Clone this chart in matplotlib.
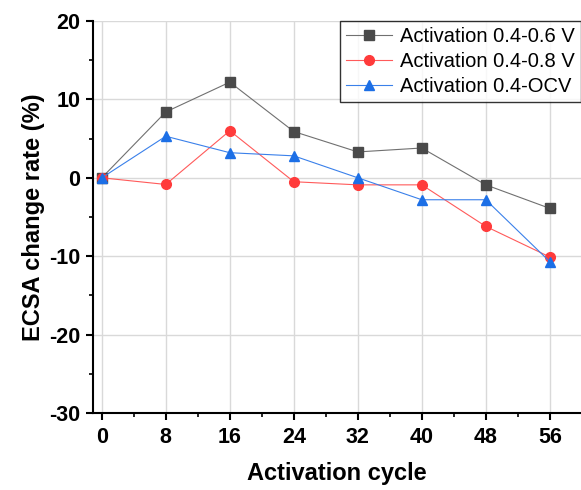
import matplotlib.pyplot as plt
from matplotlib.ticker import MultipleLocator

plt.rcParams['font.family'] = ['Liberation Sans', 'DejaVu Sans']
plt.rcParams['axes.unicode_minus'] = False

cycles = [0, 8, 16, 24, 32, 40, 48, 56]
act_06 = [0, 8.4, 12.2, 5.9, 3.3, 3.8, -0.9, -3.9]
act_08 = [0, -0.85, 6.0, -0.5, -0.9, -0.9, -6.2, -10.1]
act_ocv = [0, 5.3, 3.2, 2.8, 0.0, -2.8, -2.8, -10.7]

fig = plt.figure(figsize=(5.81, 4.90), dpi=100)
ax = fig.add_axes([93/581, 77/490, 488/581, 392/490])

ax.plot(cycles, act_06, color='#707070', lw=0.8, marker='s', ms=6.5,
        mfc='#4a4a4a', mec='#4a4a4a', label='Activation 0.4-0.6 V', zorder=3)
ax.plot(cycles, act_08, color='#ff5a5a', lw=0.8, marker='o', ms=7,
        mfc='#ff3b3b', mec='#ff3b3b', label='Activation 0.4-0.8 V', zorder=3)
ax.plot(cycles, act_ocv, color='#3a80ea', lw=0.8, marker='^', ms=7.5,
        mfc='#1c6fe6', mec='#1c6fe6', label='Activation 0.4-OCV', zorder=3)

ax.set_xlim(-1.1, 59.9)
ax.set_ylim(-30, 20)
ax.set_xticks(cycles)
ax.set_yticks([-30, -20, -10, 0, 10, 20])
ax.xaxis.set_minor_locator(MultipleLocator(4))
ax.yaxis.set_minor_locator(MultipleLocator(5))
ax.grid(True, which='major', color='#d9d9d9', lw=1)
ax.set_axisbelow(True)

for s in ['top', 'right']:
    ax.spines[s].set_visible(False)
for s in ['left', 'bottom']:
    ax.spines[s].set_linewidth(1.5)

ax.tick_params(which='major', direction='out', length=5, width=1.5, labelsize=15.5)
ax.tick_params(axis='x', which='major', pad=5)
ax.tick_params(axis='y', which='major', pad=4)
ax.tick_params(which='minor', direction='out', length=3, width=1.2)
for lab in ax.get_xticklabels() + ax.get_yticklabels():
    lab.set_fontweight('bold')

ax.set_xlabel('Activation cycle', fontsize=17, fontweight='bold', labelpad=10)
ax.set_ylabel('ECSA change rate (%)', fontsize=17, fontweight='bold', labelpad=3)

leg = ax.legend(loc='upper right', fontsize=14.5, frameon=True, fancybox=False,
                edgecolor='black', borderpad=0.3, labelspacing=0.3,
                handlelength=2.3, handletextpad=0.4, borderaxespad=0.0)
leg.get_frame().set_linewidth(1.0)

fig.savefig('out.png', dpi=100)
